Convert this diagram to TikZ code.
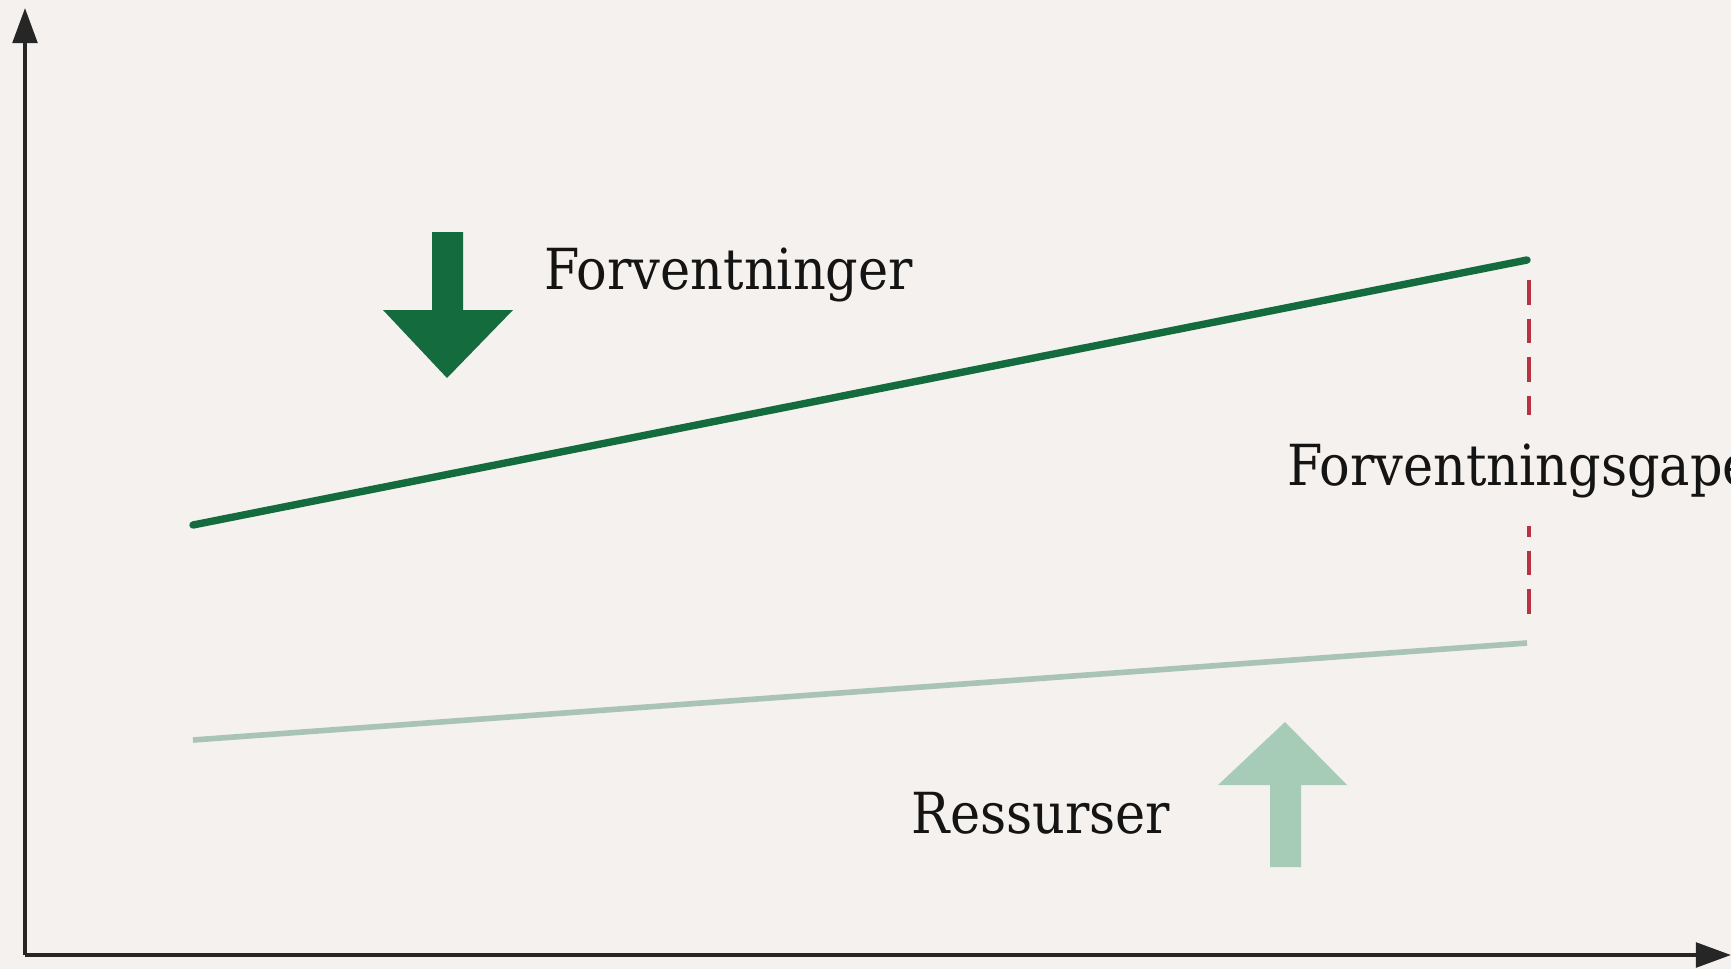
\documentclass[tikz,border=0pt]{standalone}
\usepackage{fontspec}
\setmainfont{DejaVu Serif Condensed}
\usetikzlibrary{arrows.meta}
\definecolor{bgcol}{HTML}{F4F1EE}
\definecolor{darkgreen}{HTML}{136B3E}
\definecolor{lightgreen}{HTML}{A6CCB8}
\definecolor{lightline}{HTML}{A9C4B6}
\definecolor{gapred}{HTML}{B8323F}
\begin{document}
\begin{tikzpicture}[x=0.1mm,y=-0.1mm,
  axis/.style={line width=1.1pt,black!85,-{Triangle[length=10pt,width=7pt]}},
  expline/.style={line width=2.1pt,darkgreen,line cap=round},
  resline/.style={line width=1.6pt,lightline},
  gapline/.style={line width=1.1pt,gapred,dash pattern=on 7pt off 4pt},
  label/.style={font=\fontsize{16.1}{19}\selectfont,text=black!92,inner sep=0pt,anchor=base west}]
  % canvas
  \fill[bgcol] (0,0) rectangle (1731,969);
  \useasboundingbox (0,0) rectangle (1731,969);
  \clip (0,0) rectangle (1731,969);

  % axes
  \coordinate (origin) at (25,955);
  \coordinate (ytip) at (25,8);
  \coordinate (xtip) at (1731,955);
  \draw[axis] (origin) -- (ytip);
  \draw[axis] (origin) -- (xtip);

  % expectation and resource lines
  \coordinate (e0) at (193,525);
  \coordinate (e1) at (1527,260);
  \coordinate (r0) at (193,740);
  \coordinate (r1) at (1527,643);
  \draw[resline] (r0) -- (r1);
  \draw[expline] (e0) -- (e1);

  % the gap between them
  \coordinate (gtop) at (1529,280);
  \coordinate (gbot) at (1529,620);
  \draw[gapline] (gtop) -- (gbot);
  \node[label,fill=bgcol,inner ysep=8pt,inner xsep=3pt] (gap) at (1276,485) {Forventningsgapet};

  % downward arrow: expectations
  \fill[darkgreen] (432,232) -- (463,232) -- (463,310) -- (513,310) -- (447,378)
    -- (383,310) -- (432,310) -- cycle;
  \node[label] (exp) at (544,289) {Forventninger};

  % upward arrow: resources
  \fill[lightgreen] (1270,867) -- (1301,867) -- (1301,785) -- (1347,785) -- (1285,722)
    -- (1218,785) -- (1270,785) -- cycle;
  \node[label] (res) at (911,833) {Ressurser};
\end{tikzpicture}
\end{document}
